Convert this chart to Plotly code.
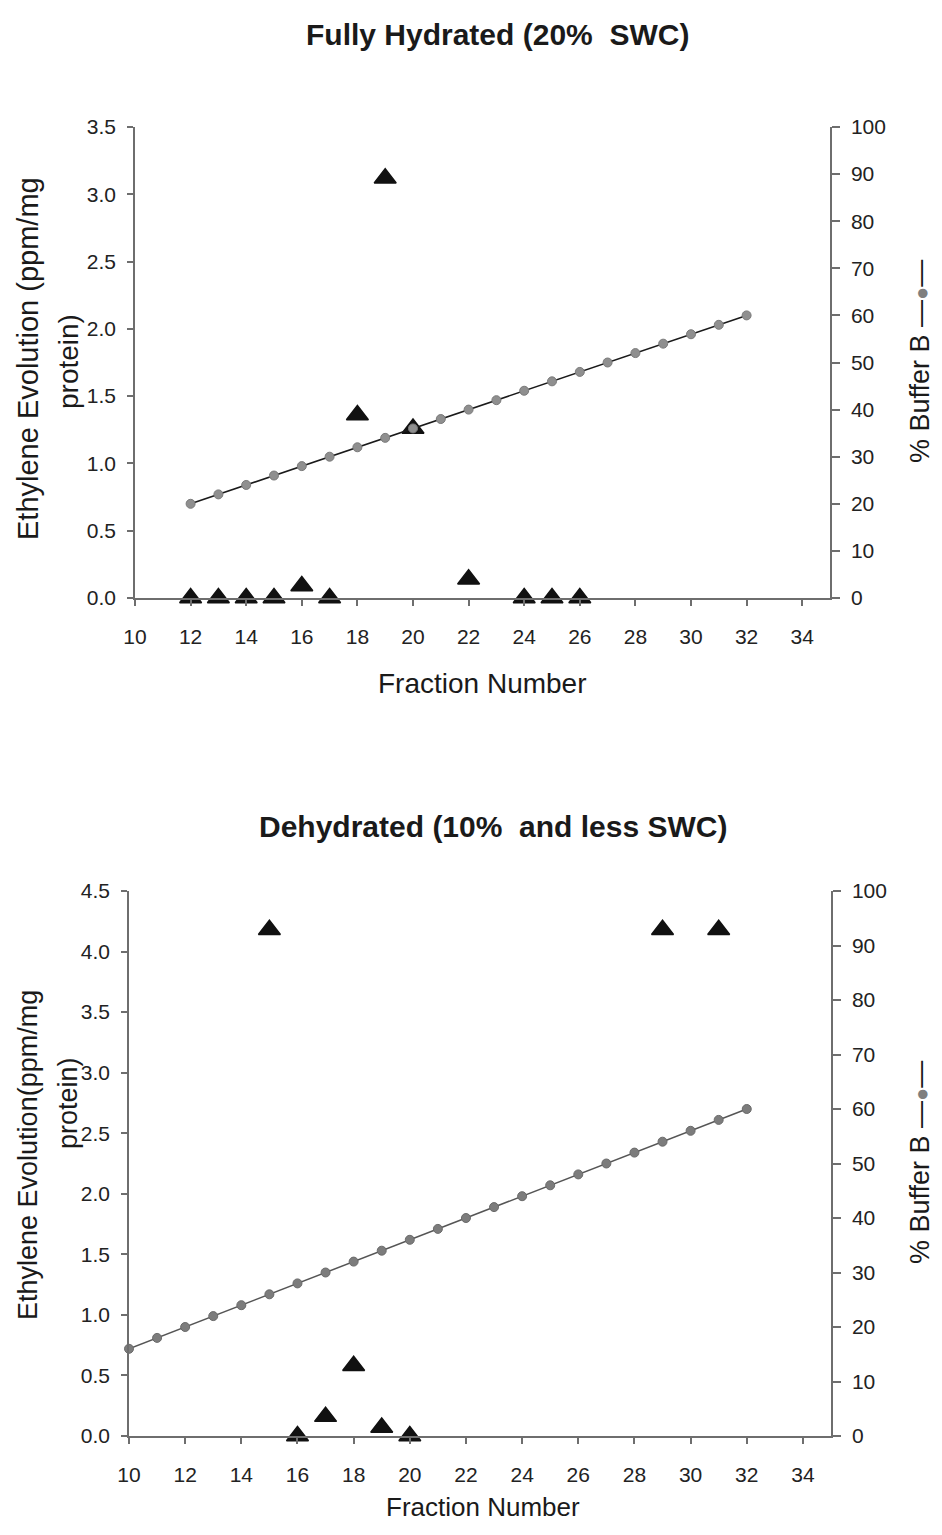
import plotly.graph_objects as go

# ---------------- data ----------------
top_eth_fraction = [12, 13, 14, 15, 16, 17, 18, 19, 20, 22, 24, 25, 26]
top_eth_value = [0, 0, 0, 0, 0.09, 0, 1.36, 3.12, 1.26, 0.14, 0, 0, 0]
top_buf_fraction = [12, 13, 14, 15, 16, 17, 18, 19, 20, 21, 22, 23, 24, 25, 26, 27, 28, 29, 30, 31, 32]
top_buf_value = [20, 22, 24, 26, 28, 30, 32, 34, 36, 38, 40, 42, 44, 46, 48, 50, 52, 54, 56, 58, 60]

bot_eth_fraction = [15, 16, 17, 18, 19, 20, 29, 31]
bot_eth_value = [4.18, 0, 0.16, 0.58, 0.07, 0, 4.18, 4.18]
bot_buf_fraction = [10, 11, 12, 13, 14, 15, 16, 17, 18, 19, 20, 21, 22, 23, 24, 25, 26, 27, 28, 29, 30, 31, 32]
bot_buf_value = [16, 18, 20, 22, 24, 26, 28, 30, 32, 34, 36, 38, 40, 42, 44, 46, 48, 50, 52, 54, 56, 58, 60]

x_ticks = [10, 12, 14, 16, 18, 20, 22, 24, 26, 28, 30, 32, 34]
top_left_ticks = [0, 0.5, 1.0, 1.5, 2.0, 2.5, 3.0, 3.5]
bot_left_ticks = [0, 0.5, 1.0, 1.5, 2.0, 2.5, 3.0, 3.5, 4.0, 4.5]
right_ticks = [0, 10, 20, 30, 40, 50, 60, 70, 80, 90, 100]

top_title = "Fully Hydrated (20%  SWC)"
bot_title = "Dehydrated (10%  and less SWC)"

# page is 942x1535, the html body adds an 8px margin around the figure
OFF = 8
W, H = 942 - 2 * OFF, 1535 - 2 * OFF
FONT = "Arial, Liberation Sans, sans-serif"
AX = "#6e6e6e"


def px(x):
    return (x - OFF) / W


def py(y):
    return 1 - (y - OFF) / H


fig = go.Figure()

# triangles (ethylene)
fig.add_trace(go.Scatter(x=top_eth_fraction, y=top_eth_value, mode="markers", xaxis="x", yaxis="y",
                         marker=dict(symbol="triangle-up", size=19, color="#111111",
                                     line=dict(color="#111111", width=1.5)),
                         cliponaxis=False, showlegend=False))
fig.add_trace(go.Scatter(x=bot_eth_fraction, y=bot_eth_value, mode="markers", xaxis="x2", yaxis="y3",
                         marker=dict(symbol="triangle-up", size=19, color="#111111",
                                     line=dict(color="#111111", width=1.5)),
                         cliponaxis=False, showlegend=False))
# buffer B
fig.add_trace(go.Scatter(x=top_buf_fraction, y=top_buf_value, mode="lines+markers", xaxis="x", yaxis="y2",
                         line=dict(color="#1a1a1a", width=1.6),
                         marker=dict(symbol="circle", size=9, color="#8f8f8f",
                                     line=dict(color="#7a7a7a", width=1)),
                         cliponaxis=False, showlegend=False))
fig.add_trace(go.Scatter(x=bot_buf_fraction, y=bot_buf_value, mode="lines+markers", xaxis="x2", yaxis="y4",
                         line=dict(color="#555555", width=1.5),
                         marker=dict(symbol="circle", size=9, color="#7c7c7c",
                                     line=dict(color="#6a6a6a", width=1)),
                         cliponaxis=False, showlegend=False))

tickfont = dict(family=FONT, size=21, color="#222222")


def xax(domain, anchor):
    return dict(domain=domain, anchor=anchor, range=[10, 35], tickvals=x_ticks, automargin=False,
                showgrid=False, zeroline=False, showline=True, linecolor=AX, linewidth=1.5,
                ticks="outside", ticklen=6, tickcolor=AX, tickwidth=1.5,
                tickfont=tickfont, ticklabelstandoff=13)


def yleft(domain, anchor, rng, tv):
    return dict(domain=domain, anchor=anchor, range=rng, tickvals=tv, tickformat=".1f", automargin=False,
                showgrid=False, zeroline=False, showline=True, linecolor=AX, linewidth=1.5,
                ticks="outside", ticklen=6, tickcolor=AX, tickwidth=1.5,
                tickfont=tickfont, ticklabelstandoff=7)


def yright(anchor, over):
    return dict(overlaying=over, anchor=anchor, side="right", range=[0, 100], tickvals=right_ticks,
                automargin=False,
                showgrid=False, zeroline=False, showline=True, linecolor=AX, linewidth=1.5,
                ticks="outside", ticklen=8, tickcolor=AX, tickwidth=1.5,
                tickfont=tickfont, ticklabelstandoff=7)


def yright_inside(anchor, over):
    return dict(overlaying=over, anchor=anchor, side="right", range=[0, 100], tickvals=right_ticks,
                automargin=False,
                showgrid=False, zeroline=False, showline=False, showticklabels=False,
                ticks="inside", ticklen=8, tickcolor=AX, tickwidth=1.5)


fig.update_layout(
    template="none",
    width=W, height=H,
    paper_bgcolor="white", plot_bgcolor="white",
    margin=dict(l=0, r=0, t=0, b=0, pad=0, autoexpand=False),
    xaxis=xax([px(135), px(830)], "y"),
    yaxis=yleft([py(598), py(127)], "x", [0, 3.5], top_left_ticks),
    yaxis2=yright("x", "y"),
    yaxis5=yright_inside("x", "y"),
    xaxis2=xax([px(129), px(831)], "y3"),
    yaxis3=yleft([py(1436), py(891)], "x2", [0, 4.5], bot_left_ticks),
    yaxis4=yright("x2", "y3"),
    yaxis6=yright_inside("x2", "y3"),
)


def ann(text, x, y, size, angle=0, bold=False):
    fig.add_annotation(text=("<b>%s</b>" % text) if bold else text, x=px(x), y=py(y),
                       xref="paper", yref="paper", showarrow=False, textangle=angle,
                       xanchor="center", yanchor="middle",
                       font=dict(family=FONT, size=size, color="#1a1a1a"))


dot = "—<span style='color:#7f7f7f;font-size:22px'>●</span>—"

# top panel texts
ann(top_title, 497, 34, 30, bold=True)
ann("Fraction Number", 483, 683, 28)
ann("Ethylene Evolution (ppm/mg", 28, 359, 29, angle=-90)
ann("protein)", 68, 362, 28, angle=-90)
ann("% Buffer B " + dot, 920, 362, 27, angle=-90)

# bottom panel texts
ann(bot_title, 493, 826, 30, bold=True)
ann("Fraction Number", 483, 1507, 26)
ann("Ethylene Evolution(ppm/mg", 28, 1155, 27, angle=-90)
ann("protein)", 68, 1103, 27, angle=-90)
ann("% Buffer B " + dot, 920, 1163, 27, angle=-90)

fig.write_html("out.html")
